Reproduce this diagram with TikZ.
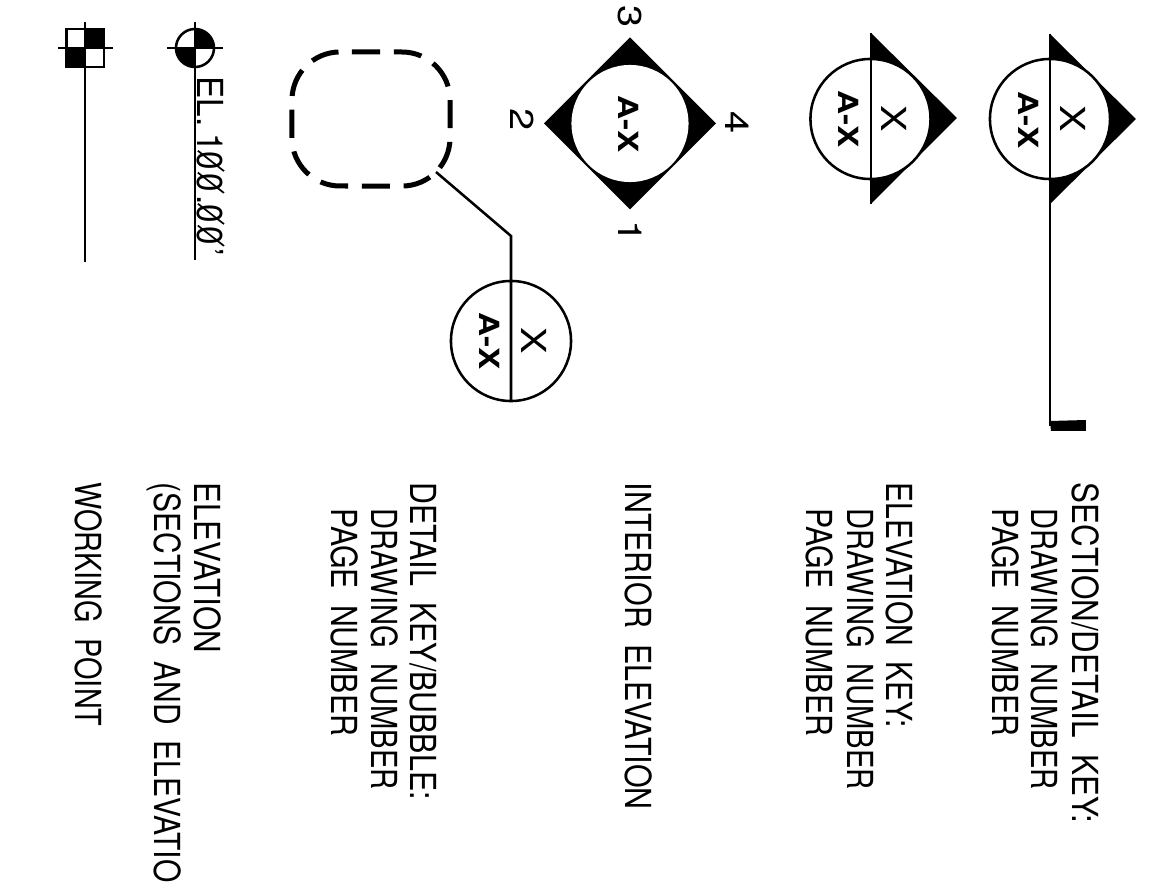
\documentclass[tikz,border=0pt]{standalone}
\usepackage{fontspec}
\setmainfont{TeX Gyre Heros}
\usepackage{graphicx}
\newcommand{\slzero}{\makebox[0pt][l]{\kern.278em\raisebox{.36em}{\makebox[0pt]{\rotatebox[origin=c]{50}{\rule[-.025em]{.95em}{.05em}}}}}0\kern.1em}
\newcommand{\widewords}{\spaceskip 5.4pt\relax}
\newcommand{\narrowwords}{\spaceskip 2pt\relax}
\tikzset{
    keytext/.style={rotate=-90, xscale=0.88, anchor=base west, inner sep=0pt, font=\fontsize{10.2}{12}\selectfont, execute at begin node=\widewords},
    bubble/.style={circle, draw, fill=white, line width=0.72pt, inner sep=0pt, outer sep=0pt, minimum size=1.2cm},
    sheetmark/.style={rotate=-90, xscale=1.2, inner sep=0pt, font=\bfseries\fontsize{7.9}{9}\selectfont},
    detailmark/.style={rotate=-90, xscale=1.15, inner sep=0pt, font=\fontsize{9.8}{10}\selectfont},
    digitmark/.style={rotate=-90, xscale=1.2, inner sep=0pt, font=\fontsize{9.4}{10}\selectfont},
    thinline/.style={line width=0.72pt}
}

\begin{document}
\begin{tikzpicture}[x=0.01cm, y=-0.01cm]
    %% Background
    \useasboundingbox (0,0) rectangle (1153,882);

    %% Section/detail key
    \fill (1050,34) -- (1136,119) -- (1050,204) -- cycle;
    \node[bubble] (sectionbubble) at (1050,119) {};
    \draw[thinline] (1050,34) -- (1050,426);
    \fill (1050,421) -- (1086,420) -- (1086,431) -- (1051,431) -- cycle;
    \node[sheetmark] (sectionsheet) at (1029,120) {A-X};
    \node[detailmark] (sectionmark) at (1073,119) {X};

    %% Elevation key
    \fill (871,33) -- (957,118) -- (871,204) -- cycle;
    \node[bubble] (elevbubble) at (870.5,119) {};
    \draw[thinline] (871,33) -- (871,204);
    \node[sheetmark] (elevsheet) at (849,119) {A-X};
    \node[detailmark] (elevmark) at (894,119) {X};

    %% Interior elevation
    \fill (630,37.5) -- (716,123.5) -- (630,209.5) -- (544,123.5) -- cycle;
    \node[bubble, draw=none, minimum size=1.17cm] (intbubble) at (630,123.5) {};
    \node[sheetmark] (intsheet) at (629,124) {A-X};
    \node[digitmark] (intthree) at (630,17) {3};
    \node[digitmark] (intone) at (630,232) {1};
    \node[digitmark] (inttwo) at (522,120) {2};
    \node[digitmark] (intfour) at (737,123) {4};

    %% Detail key
    \draw[line width=0.05cm, dash pattern=on 0.28cm off 0.138cm]
        (352,52) -- (402,52) arc (90:0:0.48cm) -- (450,138) arc (0:-90:0.48cm)
        -- (340,186) arc (270:180:0.48cm) -- (292,100) arc (180:90:0.48cm) -- cycle;
    \node[bubble] (detailbubble) at (511,341) {};
    \coordinate (leaderfree) at (436,172);
    \coordinate (leaderbend) at (511,236);
    \draw[thinline] (leaderfree) -- (leaderbend) -- (detailbubble.south);
    \node[sheetmark] (detailsheet) at (490,341) {A-X};
    \node[detailmark] (detailmark) at (534,341) {X};

    %% Elevation datum
    \fill (195,48) -- (214,48) arc (0:90:0.19cm) -- cycle;
    \fill (195,48) -- (176,48) arc (180:270:0.19cm) -- cycle;
    \draw[thinline] (195,48) circle (0.19cm);
    \draw[thinline] (167,48) -- (223,48);
    \draw[thinline] (195,22) -- (195,260);
    \node[keytext, xscale=1.055, execute at begin node=\narrowwords] (elevvalue) at (198,76) {EL. 1\slzero\slzero.\slzero\slzero'};

    %% Working point
    \draw[thinline] (66.7,29) rectangle (104,67);
    \fill (85,29) rectangle (104,48);
    \fill (66.7,48) rectangle (85,67);
    \draw[thinline] (58,48) -- (113,48);
    \draw[thinline] (85,22) -- (85,262);

    %% Notes
    \node[keytext, xscale=0.994] (sectionnote) at (1073,482) {SECTION/DETAIL KEY:};
    \node[keytext, xscale=0.924] (sectiondrawing) at (1032,508) {DRAWING NUMBER};
    \node[keytext, xscale=0.958] (sectionpage) at (993,508) {PAGE NUMBER};
    \node[keytext, xscale=0.95] (elevnote) at (887,482) {ELEVATION KEY:};
    \node[keytext, xscale=0.924] (elevdrawing) at (847,508) {DRAWING NUMBER};
    \node[keytext, xscale=0.958] (elevpage) at (807,508) {PAGE NUMBER};
    \node[keytext, xscale=0.964] (intnote) at (626,482) {INTERIOR ELEVATION};
    \node[keytext, xscale=0.963] (detailnote) at (411,482) {DETAIL KEY/BUBBLE:};
    \node[keytext, xscale=0.924] (detaildrawing) at (372,508) {DRAWING NUMBER};
    \node[keytext, xscale=0.958] (detailpage) at (332,508) {PAGE NUMBER};
    \node[keytext, xscale=0.99] (datumnote) at (195,482) {ELEVATION};
    \node[keytext, xscale=0.95] (datumsub) at (155,482) {(SECTIONS AND ELEVATIO};
    \node[keytext, xscale=0.914] (worknote) at (76,482) {WORKING POINT};
\end{tikzpicture}
\end{document}
